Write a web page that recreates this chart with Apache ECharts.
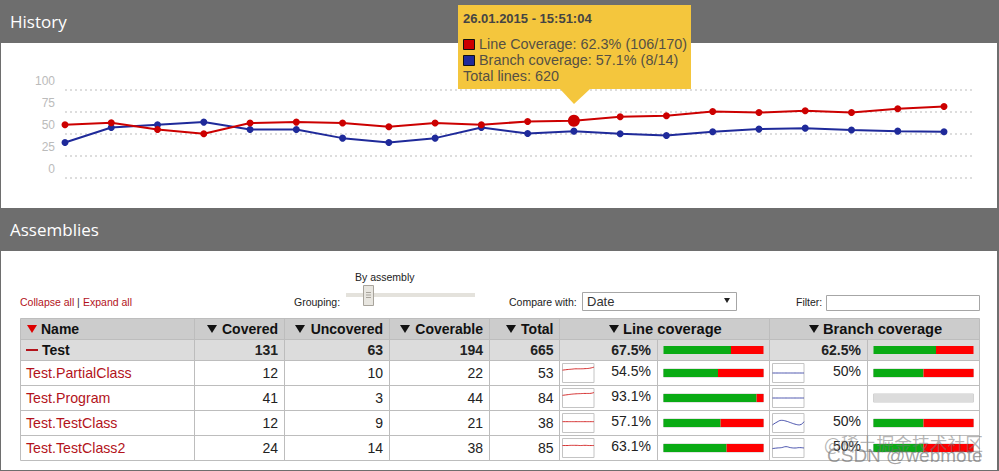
<!DOCTYPE html>
<html>
<head>
<meta charset="utf-8">
<style>html,body{margin:0;padding:0;background:#fff}#main{width:999px;height:471px}</style>
<script src="https://cdn.jsdelivr.net/npm/echarts@6/dist/echarts.min.js"></script>
</head>
<body>
<div id="main"></div>
<script>
// history chart
var yTicks = [0, 25, 50, 75, 100];
var lineHistory = [60.2, 62.4, 54.9, 50, 62.1, 63.2, 62.1, 57.9, 62.1, 60.2, 63.9, 64.7, 69.2, 70.3, 75.2, 74, 76, 74, 78.2, 80.8];
var branchHistory = [40.2, 57.1, 60.2, 63.2, 54.9, 54.9, 45.1, 40.2, 45.1, 57.1, 50.3, 53, 50, 48.1, 52.3, 55.3, 56.4, 54.2, 53, 52.3];
var activePoint = 11;

// table
var headers = ['Name', 'Covered', 'Uncovered', 'Coverable', 'Total', 'Line coverage', 'Branch coverage'];
var rowNames = ['Test', 'Test.PartialClass', 'Test.Program', 'Test.TestClass', 'Test.TestClass2'];
var covered = [131, 12, 41, 12, 24];
var uncovered = [63, 10, 3, 9, 14];
var coverable = [194, 22, 44, 21, 38];
var total = [665, 53, 84, 38, 85];
var lineCoverage = [67.5, 54.5, 93.1, 57.1, 63.1];
var branchCoverage = [62.5, 50, null, 50, 50];

// sparklines, one per assembly
var lineSpark = [
  [65, 68, 70, 72, 72, 73, 75, 81],
  [64, 67, 70, 72, 73, 74, 74, 79],
  [57, 57, 57, 57, 57, 57, 57, 57],
  [63, 63, 64, 64, 63, 64, 63, 63]
];
var branchSpark = [
  [50, 50, 50, 50, 50, 50, 50, 50],
  [50, 50, 50, 50, 50, 50, 50, 50],
  [40, 55, 64, 60, 52, 44, 40, 57],
  [47, 50, 52, 57, 52, 50, 52, 50]
];

var FONT = '"Liberation Sans", Arial, sans-serif';
var RED = '#cc0000', BLUE = '#1f2a9a', LINK = '#b3131b', GRID = '#bdbdbd', BANNER = '#6e6e6e';

var g = [];
function rect(x, y, w, h, fill, stroke, z) {
  g.push({type: 'rect', z: z === undefined ? -10 : z, silent: true, shape: {x: x, y: y, width: w, height: h},
    style: {fill: fill || 'none', stroke: stroke || 'none', lineWidth: 1}});
}
function line(x1, y1, x2, y2, color, z) {
  g.push({type: 'line', z: z === undefined ? -9 : z, silent: true, shape: {x1: x1, y1: y1, x2: x2, y2: y2},
    style: {stroke: color, lineWidth: 1}});
}
function poly(points, fill, z) {
  g.push({type: 'polygon', z: z === undefined ? -8 : z, silent: true, shape: {points: points}, style: {fill: fill}});
}
function txt(x, y, s, size, color, o) {
  o = o || {};
  g.push({type: 'text', z: o.z === undefined ? 5 : o.z, silent: true, x: x, y: y, style: {
    text: s, fill: color, fontSize: size, fontFamily: o.family || FONT, fontWeight: o.weight || 'normal',
    align: o.align || 'left', verticalAlign: 'middle', opacity: o.opacity === undefined ? 1 : o.opacity
  }});
}

// page frame and banners
rect(0, 0, 999, 471, '#ffffff', null, -20);
rect(0, 0, 999, 43, BANNER);
rect(0, 208, 999, 43, BANNER);
rect(0, 43, 1, 428, BANNER);
rect(997, 43, 2, 428, BANNER);
rect(0, 470, 999, 1, BANNER);
txt(10, 21.5, 'History', 17, '#ffffff', {family: '"Open Sans", sans-serif'});
txt(10, 229.5, 'Assemblies', 17, '#ffffff', {family: '"Open Sans", sans-serif'});

// tooltip of the active point
rect(458, 5, 233, 84, '#f4c63d', null, 20);
poly([[560, 89], [590, 89], [574, 104]], '#f4c63d', 20);
txt(463, 18, '26.01.2015 - 15:51:04', 13, '#444444', {weight: 'bold', z: 21});
rect(463.5, 39.5, 11, 10, RED, '#111111', 21);
rect(463.5, 55.5, 11, 10, BLUE, '#111111', 21);
txt(479, 44, 'Line Coverage: 62.3% (106/170)', 14.4, '#555044', {z: 21});
txt(479, 60, 'Branch coverage: 57.1% (8/14)', 14.4, '#555044', {z: 21});
txt(463, 76, 'Total lines: 620', 14.4, '#555044', {z: 21});

// controls above the table
txt(20, 302, 'Collapse all', 10.5, LINK);
txt(77, 302, '|', 10.5, '#333333');
txt(83, 302, 'Expand all', 10.5, LINK);
txt(294, 302, 'Grouping:', 10.5, '#222222');
txt(355, 277, 'By assembly', 10.5, '#222222');
rect(346, 293, 129, 4, '#e4e2dc');
rect(363.5, 285.5, 10, 20, '#e8e6e0', '#a8a49c', -7);
line(366, 292.5, 371, 292.5, '#a8a49c', -6);
line(366, 295, 371, 295, '#a8a49c', -6);
line(366, 297.5, 371, 297.5, '#a8a49c', -6);
txt(509, 302, 'Compare with:', 10.5, '#222222');
rect(582.5, 292.5, 154, 18, '#ffffff', '#a6a6a6');
txt(587, 301, 'Date', 13, '#333333');
poly([[724, 298], [730, 298], [727, 303]], '#222222');
txt(796, 302, 'Filter:', 10.5, '#222222');
rect(826.5, 295.5, 153, 15, '#ffffff', '#a6a6a6');

// table frame
var colX = [20.5, 194.5, 284.5, 389.5, 489.5, 559.5, 769.5, 979.5];
var rowY = [318.5, 339.5, 360.5, 385.5, 410.5, 435.5, 460.5];
rect(20.5, 318.5, 959, 21, '#cccccc');
rect(20.5, 339.5, 959, 21, '#dcdcdc');
rowY.forEach(function (y) { line(20.5, y, 979.5, y, GRID); });
colX.forEach(function (x) { line(x, 318.5, x, 460.5, GRID); });
line(657.5, 339.5, 657.5, 460.5, GRID);
line(867.5, 339.5, 867.5, 460.5, GRID);

// header row: arrow left edge, text position
var headX = [27, 207, 295, 400, 506, 609, 809];
var headEnd = [41, 278, 383, 483, 553.5, 623, 823];
headers.forEach(function (h, i) {
  poly([[headX[i], 325], [headX[i] + 10, 325], [headX[i] + 5, 333]], i === 0 ? '#dd0000' : '#111111');
  if (i === 0) txt(headEnd[i], 329, h, 14, '#111111', {weight: 'bold'});
  else if (i < 5) txt(headEnd[i], 329, h, 14, '#111111', {weight: 'bold', align: 'right'});
  else txt(headEnd[i], 329, h, 14.7, '#111111', {weight: 'bold'});
});

// body rows
var textY = [350, 373, 398, 423, 448];
var percentY = [350, 371, 396, 421, 446];
var cols = [covered, uncovered, coverable, total];
var colEnd = [278, 383, 483, 553.5];
rowNames.forEach(function (name, r) {
  var bold = r === 0 ? 'bold' : 'normal';
  if (r === 0) {
    rect(26, 349, 12, 2, LINK);
    txt(42, textY[r], name, 14, '#111111', {weight: 'bold'});
  } else {
    txt(26, textY[r], name, 14.2, LINK);
  }
  cols.forEach(function (c, k) {
    txt(colEnd[k], textY[r], String(c[r]), 14, '#222222', {weight: bold, align: 'right'});
  });
  txt(651, percentY[r], lineCoverage[r] + '%', 14, '#222222', {weight: bold, align: 'right'});
  if (branchCoverage[r] !== null) {
    txt(861, percentY[r], branchCoverage[r] + '%', 14, '#222222', {weight: bold, align: 'right'});
  }
});

// watermark
txt(824, 443, '@稀土掘金技术社区', 17.8, '#777777', {family: '"Noto Sans CJK SC"', opacity: 0.55, z: 30});
txt(827, 455, 'CSDN @webmote', 19, '#666666', {opacity: 0.6, z: 30});

// history grid + every small chart get their own grid
var grids = [{left: 65, top: 89.5, width: 910, height: 88.6}];
var xAxes = [{type: 'value', gridIndex: 0, min: 0, max: 19.67, show: false}];
var yAxes = [{
  type: 'value', gridIndex: 0, min: yTicks[0], max: yTicks[yTicks.length - 1], interval: 25,
  axisLine: {show: false}, axisTick: {show: false},
  axisLabel: {color: '#bbbbbb', fontSize: 12, fontFamily: FONT, margin: 10, verticalAlign: 'bottom', padding: [0, 0, 3, 0]},
  splitLine: {lineStyle: {color: '#dddddd', type: [2, 3], width: 2}}
}];
function historySeries(name, data, color, z) {
  return {
    name: name, type: 'line', xAxisIndex: 0, yAxisIndex: 0, z: z, silent: true, animation: false,
    data: data.map(function (v, i) { return [i, v]; }),
    symbol: 'circle',
    symbolSize: function (v, p) { return p.dataIndex === activePoint && z === 4 ? 12 : 7; },
    lineStyle: {color: color, width: 2}, itemStyle: {color: color}
  };
}
var series = [historySeries('Branch coverage', branchHistory, BLUE, 3), historySeries('Line coverage', lineHistory, RED, 4)];

function addGrid(left, top, w, h, border) {
  var idx = grids.length;
  grids.push({left: left, top: top, width: w, height: h, show: !!border, borderColor: border || 'transparent', borderWidth: 1, backgroundColor: 'transparent'});
  return idx;
}
function addBar(left, top, value, border) {
  var idx = addGrid(left, top, 100, 8, border);
  xAxes.push({type: 'value', gridIndex: idx, min: 0, max: 100, show: false});
  yAxes.push({type: 'category', gridIndex: idx, data: ['c'], show: false});
  var parts = value === null ? [[100, '#dcdcdc']] : [[value, '#0aab14'], [100 - value, '#ff0000']];
  parts.forEach(function (p) {
    series.push({type: 'bar', xAxisIndex: idx, yAxisIndex: idx, stack: 'c' + idx, barWidth: '100%', silent: true,
      animation: false, data: [p[0]], itemStyle: {color: p[1]}});
  });
}
function addSpark(left, top, values, color) {
  var idx = addGrid(left, top, 31.5, 19, '#c4c4c4');
  xAxes.push({type: 'category', gridIndex: idx, boundaryGap: false, show: false, data: values.map(function (v, i) { return i; })});
  yAxes.push({type: 'value', gridIndex: idx, min: 0, max: 100, show: false});
  series.push({type: 'line', xAxisIndex: idx, yAxisIndex: idx, data: values, symbol: 'none', silent: true, animation: false,
    smooth: true, lineStyle: {color: color, width: 1, opacity: 0.8}});
}

var barTop = [346, 369, 394, 419, 444];
var sparkTop = [363.5, 388.5, 413.5, 438.5];
rowNames.forEach(function (name, r) {
  var border = r === 0 ? null : '#c8c8c8';
  addBar(663.5, barTop[r], lineCoverage[r], border);
  addBar(873.5, barTop[r], branchCoverage[r], border);
});
sparkTop.forEach(function (t, r) {
  addSpark(562.5, t, lineSpark[r], RED);
  addSpark(772.5, t, branchSpark[r], BLUE);
});

var chart = echarts.init(document.getElementById('main'), null, {renderer: 'svg'});
chart.setOption({
  animation: false,
  backgroundColor: '#ffffff',
  graphic: {elements: g},
  grid: grids,
  xAxis: xAxes,
  yAxis: yAxes,
  series: series
});
</script>
</body>
</html>
